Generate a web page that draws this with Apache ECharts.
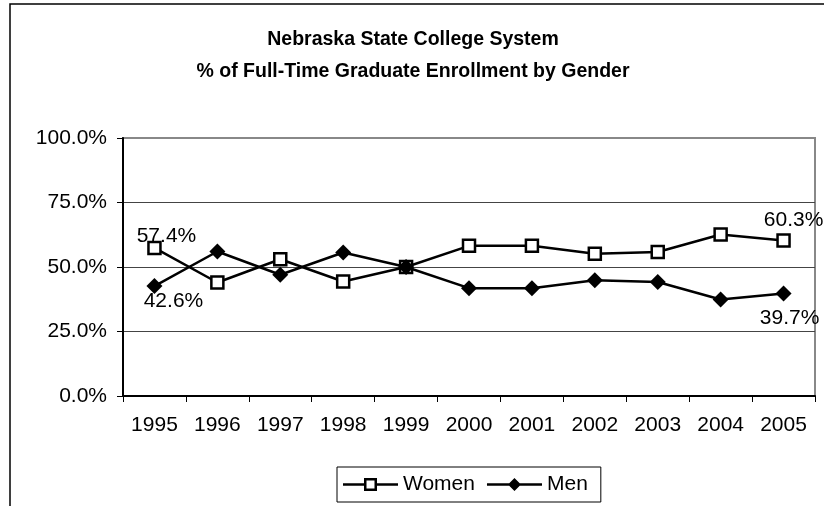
<!DOCTYPE html>
<html>
<head>
<meta charset="utf-8">
<script src="https://cdn.jsdelivr.net/npm/echarts@6/dist/echarts.min.js"></script>
<style>
  html, body { margin: 0; padding: 0; background: #fff; }
  #chart { width: 824px; height: 506px; }
</style>
</head>
<body>
<div id="chart"></div>
<script>
const years = ['1995', '1996', '1997', '1998', '1999', '2000', '2001', '2002', '2003', '2004', '2005'];
const women = [57.4, 44.0, 53.0, 44.4, 50.0, 58.2, 58.2, 55.1, 55.8, 62.6, 60.3];
const men = [42.6, 56.0, 47.0, 55.6, 50.0, 41.8, 41.8, 44.9, 44.2, 37.4, 39.7];
const yTicks = [0, 25, 50, 75, 100];

const font = 'Liberation Sans, Arial, sans-serif';

// legend icons: line + marker + line, drawn as one filled path (55 x 13 box)
const womenIcon = 'path://M0 5.25L21 5.25L21 7.75L0 7.75Z' +
  'M21 0L34 0L34 13L21 13Z M23.5 2.5L23.5 10.5L31.5 10.5L31.5 2.5Z' +
  'M34 5.25L55 5.25L55 7.75L34 7.75Z';
const menIcon = 'path://M0 5.25L24 5.25L24 7.75L0 7.75Z' +
  'M27.5 0L34 6.5L27.5 13L21 6.5Z' +
  'M31 5.25L55 5.25L55 7.75L31 7.75Z';

// only the first and last points carry a value label
const withEndLabels = (values, firstOffset, lastOffset) => values.map((v, i) => {
  if (i === 0 || i === values.length - 1) {
    return {
      value: v,
      label: {
        show: true,
        position: 'inside',
        offset: i === 0 ? firstOffset : lastOffset,
        color: '#000',
        fontSize: 21,
        fontFamily: font,
        formatter: (p) => p.value.toFixed(1) + '%'
      }
    };
  }
  return v;
});

const chart = echarts.init(document.getElementById('chart'));
chart.setOption({
  animation: false,
  backgroundColor: '#fff',
  title: {
    text: 'Nebraska State College System\n% of Full-Time Graduate Enrollment by Gender',
    left: 408,
    top: 19,
    textAlign: 'center',
    textStyle: {
      color: '#000',
      fontFamily: font,
      fontSize: 19.5,
      fontWeight: 'bold',
      lineHeight: 32
    }
  },
  graphic: [{
    type: 'rect',
    shape: { x: 10, y: 4, width: 900, height: 600 },
    style: { fill: 'none', stroke: '#000', lineWidth: 1.5 },
    silent: true
  }],
  legend: {
    left: 337,
    top: 467,
    padding: [7, 13, 7, 6],
    borderColor: '#000',
    borderWidth: 1,
    itemWidth: 55,
    itemHeight: 13,
    itemGap: 12,
    itemStyle: { color: '#000', borderWidth: 0 },
    textStyle: { color: '#000', fontSize: 21, fontFamily: font },
    data: [
      { name: 'Women', icon: womenIcon },
      { name: 'Men', icon: menIcon }
    ]
  },
  grid: {
    left: 123,
    right: 9,
    top: 138,
    bottom: 110,
    show: true,
    borderColor: '#888',
    borderWidth: 2
  },
  xAxis: {
    type: 'category',
    data: years,
    boundaryGap: true,
    axisLine: { lineStyle: { color: '#000', width: 2 } },
    axisTick: { show: true, length: 6, lineStyle: { color: '#000', width: 1 } },
    axisLabel: { color: '#000', fontSize: 21, fontFamily: font, margin: 19 },
    splitLine: { show: false }
  },
  yAxis: {
    type: 'value',
    min: yTicks[0],
    max: yTicks[yTicks.length - 1],
    interval: 25,
    axisLine: { show: true, lineStyle: { color: '#000', width: 2 } },
    axisTick: { show: true, length: 6, lineStyle: { color: '#000', width: 1 } },
    axisLabel: {
      color: '#000',
      fontSize: 21,
      fontFamily: font,
      margin: 16,
      formatter: (v) => v.toFixed(1) + '%'
    },
    splitLine: {
      show: true,
      lineStyle: { color: ['#000', '#444', '#444', '#444', '#888'], width: 1 }
    }
  },
  series: [
    {
      name: 'Women',
      type: 'line',
      data: withEndLabels(women, [12, -12], [10, -20]),
      symbol: 'rect',
      symbolSize: 12,
      showAllSymbol: true,
      lineStyle: { color: '#000', width: 2.5 },
      itemStyle: { color: '#fff', borderColor: '#000', borderWidth: 2.5 },
      z: 3
    },
    {
      name: 'Men',
      type: 'line',
      data: withEndLabels(men, [19, 15], [6, 25]),
      symbol: 'diamond',
      symbolSize: 16,
      showAllSymbol: true,
      lineStyle: { color: '#000', width: 2.5 },
      itemStyle: { color: '#000', borderColor: '#000', borderWidth: 0 },
      z: 4
    }
  ]
});
</script>
</body>
</html>
